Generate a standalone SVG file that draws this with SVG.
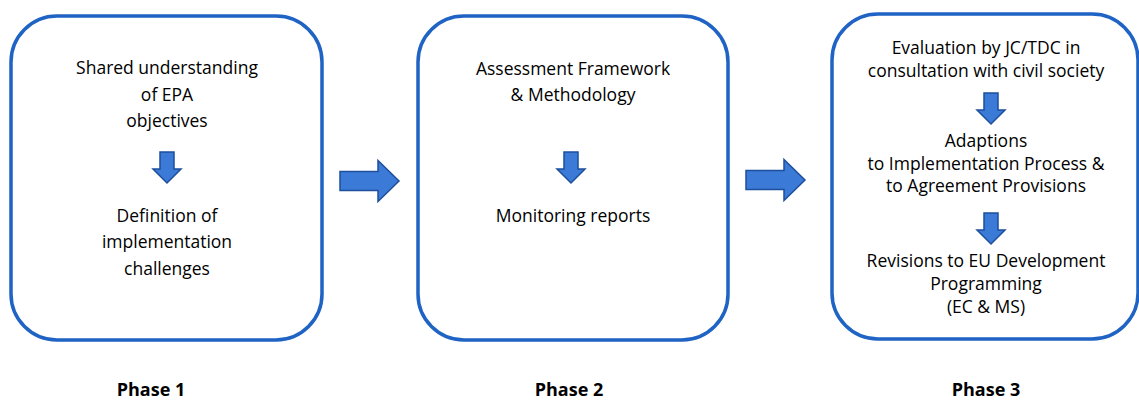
<svg xmlns="http://www.w3.org/2000/svg" width="1139" height="400" viewBox="0 0 1139 400">
<style>
.box{fill:#fff;stroke:#1f63c4;stroke-width:3.5}
.t{font-family:"Open Sans","Noto Sans",sans-serif;font-size:17.5px;fill:#000;text-anchor:middle}
.ph{font-family:"Open Sans","Noto Sans",sans-serif;font-size:18px;font-weight:bold;fill:#000;text-anchor:middle}
.arr{fill:#3b7ad6;stroke:#1d4f9c;stroke-width:1.5;stroke-linejoin:miter}
</style>
<defs>
<path id="down" d="M-7,0 H7 V17 H14 L0,31 L-14,17 H-7 Z"/>
<path id="right" d="M0,-9.5 H38 V-20.5 L59,0 L38,20.5 V9.5 H0 Z"/>
</defs>
<rect width="1139" height="400" fill="#fff"/>
<g id="phase1">
<rect class="box" x="11" y="16" width="311" height="324" rx="46"/>
<text class="t" x="167" y="74">Shared understanding</text>
<text class="t" x="167" y="101">of EPA</text>
<text class="t" x="167" y="127">objectives</text>
<use href="#down" class="arr" x="167" y="152"/>
<text class="t" x="167" y="222">Definition of</text>
<text class="t" x="167" y="248">implementation</text>
<text class="t" x="167" y="275">challenges</text>
<text class="ph" x="151" y="396">Phase 1</text>
</g>
<g id="phase2">
<rect class="box" x="418" y="16" width="310" height="324" rx="46"/>
<text class="t" x="573" y="75">Assessment Framework</text>
<text class="t" x="573" y="101">&amp; Methodology</text>
<use href="#down" class="arr" x="571" y="152"/>
<text class="t" x="573" y="222">Monitoring reports</text>
<text class="ph" x="569" y="396">Phase 2</text>
</g>
<g id="phase3">
<rect class="box" x="832" y="14" width="306" height="325" rx="46"/>
<text class="t" x="986" y="54">Evaluation by JC/TDC in</text>
<text class="t" x="986" y="77">consultation with civil society</text>
<use href="#down" class="arr" x="991" y="93"/>
<text class="t" x="986" y="147">Adaptions</text>
<text class="t" x="986" y="170">to Implementation Process &amp;</text>
<text class="t" x="986" y="192">to Agreement Provisions</text>
<use href="#down" class="arr" x="991" y="213"/>
<text class="t" x="986" y="267">Revisions to EU Development</text>
<text class="t" x="986" y="290">Programming</text>
<text class="t" x="986" y="313">(EC &amp; MS)</text>
<text class="ph" x="986" y="396">Phase 3</text>
</g>
<g id="connectors">
<use href="#right" class="arr" x="340" y="181"/>
<use href="#right" class="arr" x="746" y="180"/>
</g>
</svg>
